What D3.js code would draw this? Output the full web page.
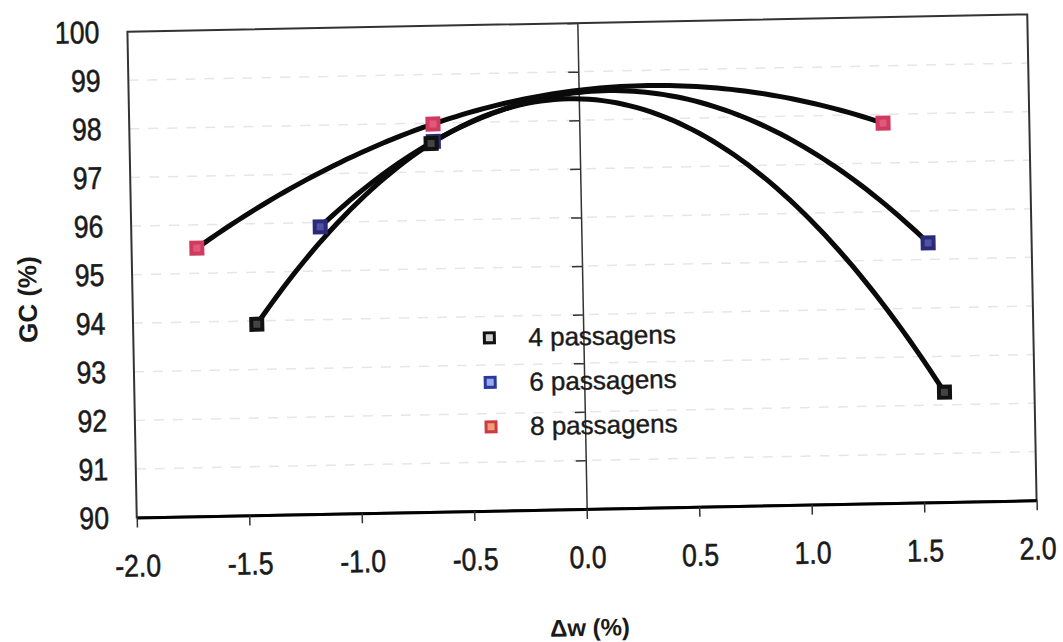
<!DOCTYPE html>
<html>
<head>
<meta charset="utf-8">
<title>GC vs Δw</title>
<script src="https://d3js.org/d3.v7.min.js"></script>
<style>
  body { margin: 0; background: #fff; }
  svg { display: block; font-family: Arial, "Liberation Sans", sans-serif; }
  .tick-label { fill: #1a1a1a; stroke: #1a1a1a; stroke-width: 0.5px; font-size: 28px; transform-box: fill-box; transform-origin: center; transform: scale(0.95, 1.12); }
  .legend-text { fill: #1a1a1a; stroke: #1a1a1a; stroke-width: 0.4px; font-size: 26px; }
  .axis-title { fill: #1a1a1a; font-weight: bold; }
  .trend { fill: none; stroke: #0a0a0a; stroke-width: 5; stroke-linecap: round; stroke-linejoin: round; }
</style>
</head>
<body>
<div id="chart"></div>
<script>
// values
const seriesNames = ["4 passagens", "6 passagens", "8 passagens"];
const deltaW4 = [-1.45, -0.66, 1.60];
const gc4     = [93.93, 97.58, 92.26];
const deltaW6 = [-1.16, -0.65, 1.54];
const gc6     = [95.91, 97.62, 95.34];
const deltaW8 = [-1.71, -0.65, 1.35];
const gc8     = [95.52, 97.98, 97.82];
const xTicks = [-2.0, -1.5, -1.0, -0.5, 0.0, 0.5, 1.0, 1.5, 2.0];
const yTicks = [90, 91, 92, 93, 94, 95, 96, 97, 98, 99, 100];

const markerStyles = [
  {stroke: "#111", fill: "#444", legendStroke: "#111", legendFill: "#d0d0d0"},
  {stroke: "#2a2a78", fill: "#4c52a4", legendStroke: "#2a3a9a", legendFill: "#9aa8ee"},
  {stroke: "#d03a62", fill: "#e05a78", legendStroke: "#d03848", legendFill: "#eaa070"}
];

const series = [
  {name: seriesNames[0], xs: deltaW4, ys: gc4},
  {name: seriesNames[1], xs: deltaW6, ys: gc6},
  {name: seriesNames[2], xs: deltaW8, ys: gc8}
];

// 2nd order polynomial trendline (least squares), like the spreadsheet trendline
function polyfit2(xs, ys) {
  const n = xs.length;
  let s = [0, 0, 0, 0, 0], t = [0, 0, 0];
  for (let i = 0; i < n; i++) {
    for (let k = 0; k < 5; k++) s[k] += Math.pow(xs[i], k);
    for (let k = 0; k < 3; k++) t[k] += ys[i] * Math.pow(xs[i], k);
  }
  const m = [[s[0], s[1], s[2], t[0]], [s[1], s[2], s[3], t[1]], [s[2], s[3], s[4], t[2]]];
  for (let c = 0; c < 3; c++) {
    for (let r = c + 1; r < 3; r++) {
      const f = m[r][c] / m[c][c];
      for (let k = c; k < 4; k++) m[r][k] -= f * m[c][k];
    }
  }
  const coef = [0, 0, 0];
  for (let r = 2; r >= 0; r--) {
    let v = m[r][3];
    for (let k = r + 1; k < 3; k++) v -= m[r][k] * coef[k];
    coef[r] = v / m[r][r];
  }
  return x => coef[0] + coef[1] * x + coef[2] * x * x;
}

const W = 1063, H = 642;
const L = 132, R = 1032, T = 23, B = 509;

const svg = d3.select("#chart").append("svg")
  .attr("width", W).attr("height", H);
svg.append("rect").attr("width", W).attr("height", H).attr("fill", "#fff");

// the scanned original is slightly tilted
const g = svg.append("g").attr("transform", "rotate(-1.1, 582, 266)");

const x = d3.scaleLinear().domain([-2, 2]).range([L, R]);
const y = d3.scaleLinear().domain([90, 100]).range([B, T]);

// faint dashed gridlines
g.append("g").selectAll("line")
  .data(yTicks.filter(d => d > 90 && d < 100))
  .join("line")
  .attr("x1", L).attr("x2", R)
  .attr("y1", d => y(d)).attr("y2", d => y(d))
  .attr("stroke", "#e6e6e6").attr("stroke-width", 1.5)
  .attr("stroke-dasharray", "10,9");

// plot frame
g.append("rect")
  .attr("x", L).attr("y", T).attr("width", R - L).attr("height", B - T)
  .attr("fill", "none").attr("stroke", "#333").attr("stroke-width", 2);

// vertical axis at x = 0 with small ticks
const zeroAxis = g.append("g")
  .attr("transform", `translate(${x(0)},0)`)
  .call(d3.axisLeft(y).tickValues(yTicks).tickSize(10).tickSizeOuter(0).tickFormat(""));
zeroAxis.select(".domain").attr("stroke", "#333").attr("stroke-width", 1.5);
zeroAxis.selectAll(".tick line").attr("stroke", "#333").attr("stroke-width", 1.5);

// y tick labels on the left edge
const yAxis = g.append("g")
  .attr("transform", `translate(${L},0)`)
  .call(d3.axisLeft(y).tickValues(yTicks).tickSize(0).tickPadding(27).tickFormat(d => d));
yAxis.select(".domain").remove();
yAxis.selectAll("text").attr("class", "tick-label").attr("fill", null);

// x axis along the bottom
const xAxis = g.append("g")
  .attr("transform", `translate(0,${B})`)
  .call(d3.axisBottom(x).tickValues(xTicks).tickSize(10).tickSizeOuter(0)
    .tickPadding(28).tickFormat(d => d.toFixed(1)));
xAxis.select(".domain").attr("stroke", "#000").attr("stroke-width", 3);
xAxis.selectAll(".tick line").attr("stroke", "#333").attr("stroke-width", 1.5);
xAxis.selectAll("text").attr("class", "tick-label").attr("fill", null);

// trendlines
const line = d3.line().x(d => x(d[0])).y(d => y(d[1]));
series.forEach(s => {
  const f = polyfit2(s.xs, s.ys);
  const x0 = d3.min(s.xs), x1 = d3.max(s.xs);
  const pts = d3.range(0, 101).map(i => {
    const xv = x0 + (x1 - x0) * i / 100;
    return [xv, f(xv)];
  });
  g.append("path").attr("class", "trend").attr("d", line(pts));
});

// markers (6 passagens first so the black ones sit on top of it, as in the scan)
[1, 0, 2].forEach(si => {
  const s = series[si], st = markerStyles[si];
  g.append("g").selectAll("rect")
    .data(s.xs.map((v, i) => [v, s.ys[i]]))
    .join("rect")
    .attr("x", d => x(d[0]) - 5.5).attr("y", d => y(d[1]) - 5.5)
    .attr("width", 11).attr("height", 11)
    .attr("fill", st.fill).attr("stroke", st.stroke).attr("stroke-width", 4);
});

// legend
const legend = g.append("g");
seriesNames.forEach((name, i) => {
  const st = markerStyles[i];
  const ly = 336 + i * 44.5;
  legend.append("rect")
    .attr("x", 488 - 5).attr("y", ly - 5).attr("width", 10).attr("height", 10)
    .attr("fill", st.legendFill).attr("stroke", st.legendStroke).attr("stroke-width", 3);
  legend.append("text").attr("class", "legend-text")
    .attr("x", 527).attr("y", ly).attr("dy", "0.35em")
    .text(name);
});

// axis titles
g.append("text").attr("class", "axis-title")
  .attr("x", 583).attr("y", 636)
  .attr("text-anchor", "middle").style("font-size", "24px")
  .text("Δw (%)");

g.append("text").attr("class", "axis-title")
  .attr("transform", "translate(27,289) rotate(-90)")
  .attr("text-anchor", "middle").attr("dy", "0.35em").style("font-size", "26px")
  .text("GC (%)");
</script>
</body>
</html>
